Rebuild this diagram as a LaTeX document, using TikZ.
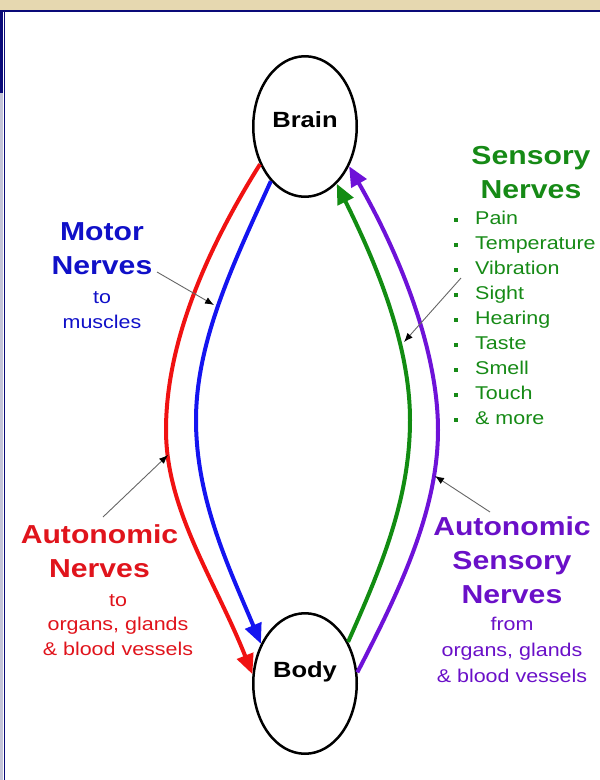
\documentclass[tikz,border=0pt]{standalone}
\usepackage{fontspec}
\setmainfont{Liberation Sans}[FakeStretch=1.16]
\usetikzlibrary{arrows.meta,shapes.geometric}
\definecolor{motorblue}{HTML}{1414F0}
\definecolor{motortext}{HTML}{1010C8}
\definecolor{autored}{HTML}{F01212}
\definecolor{autotext}{HTML}{E0141C}
\definecolor{sensgreen}{HTML}{128C12}
\definecolor{senstext}{HTML}{168A16}
\definecolor{senspurple}{HTML}{6E12D8}
\definecolor{asenstext}{HTML}{6A10C8}
\definecolor{frameblue}{HTML}{0A0A78}
\definecolor{framebeige}{HTML}{E6D8B0}
\definecolor{framegray}{HTML}{C4C4D8}
\newcommand\lstdot{\makebox[21pt][l]{\raisebox{2.5pt}{\rule{3.3pt}{3.3pt}}}}

\begin{document}
\begin{tikzpicture}[x=1pt,y=-1pt,
        organ/.style={draw,ellipse,line width=2.5pt,minimum width=103.5pt,minimum height=140.5pt,
            inner sep=0pt,font=\fontsize{22}{26}\selectfont\bfseries},
        nerve/.style={line width=4pt,-{Triangle[length=20pt,width=17pt]}},
        heading/.style={anchor=north,align=center,inner sep=0pt,font=\fontsize{26}{34}\selectfont\bfseries},
        subtext/.style={anchor=north,align=center,inner sep=0pt,font=\fontsize{18.5}{25}\selectfont},
        pointer/.style={draw=black!60,line width=0.9pt,-{Latex[length=9pt,width=7pt,black]}}]
    \useasboundingbox (0,0) rectangle (600,780);
    \fill[framebeige] (0,0) rectangle (600,9.5);
    \fill[frameblue] (0,9.5) rectangle (600,11.5);
    \fill[frameblue] (0,9.5) rectangle (3.3,93);
    \fill[framegray] (0,93) rectangle (3.3,780);
    \fill[frameblue] (3.8,9.5) rectangle (5.3,780);

    \node[organ,text depth=13pt] (brain) at (305,126.5) {Brain};
    \node[organ,text depth=27pt] (body) at (305,683.5) {Body};

    \draw[nerve,autored] (brain.220) .. controls (200,260) and (166,350) .. (166,430)
        .. controls (166,510) and (215,580) .. (body.170);
    \draw[nerve,motorblue] (brain.238) .. controls (235,260) and (196,340) .. (196,420)
        .. controls (196,500) and (230,570) .. (body.138);
    \draw[nerve,sensgreen] (body.44) .. controls (380,570) and (410,500) .. (410,420)
        .. controls (410,340) and (372,255) .. (brain.299);
    \draw[nerve,senspurple] (body.12) .. controls (400,590) and (438,510) .. (438,430)
        .. controls (438,350) and (400,255) .. (brain.318);

    \node[heading,motortext] (motor) at (102,216.2) {\strut Motor\\Nerves};
    \node[subtext,motortext] (motorsub) at (102,285.5) {\strut to\\muscles};
    \node[heading,autotext] (auto) at (99.5,519.2) {\strut Autonomic\\Nerves};
    \node[subtext,autotext,font=\fontsize{18.5}{24.5}\selectfont] (autosub) at (118,588.9)
        {\strut to\\organs, glands\\\& blood vessels};
    \node[heading,senstext] (sens) at (531,140.2) {\strut Sensory\\Nerves};
    \node[subtext,senstext,anchor=north west,align=left] (senslist) at (454,206.5)
        {\strut\lstdot Pain\\\lstdot Temperature\\\lstdot Vibration\\\lstdot Sight\\\lstdot Hearing\\
         \lstdot Taste\\\lstdot Smell\\\lstdot Touch\\\lstdot \& more};
    \node[heading,asenstext] (asens) at (512,511.2) {\strut Autonomic\\Sensory\\Nerves};
    \node[subtext,asenstext,font=\fontsize{18.5}{26}\selectfont] (asenssub) at (512,611.8)
        {\strut from\\organs, glands\\\& blood vessels};

    \coordinate (motorptr) at (157,272);
    \coordinate (autoptr) at (103,517);
    \coordinate (sensptr) at (461,278);
    \coordinate (asensptr) at (490,512);
    \coordinate (motorhit) at (214,305);
    \coordinate (autohit) at (168,455);
    \coordinate (senshit) at (404,342);
    \coordinate (asenshit) at (435,476);
    \draw[pointer] (motorptr) -- (motorhit);
    \draw[pointer] (autoptr) -- (autohit);
    \draw[pointer] (sensptr) -- (senshit);
    \draw[pointer] (asensptr) -- (asenshit);
\end{tikzpicture}
\end{document}
